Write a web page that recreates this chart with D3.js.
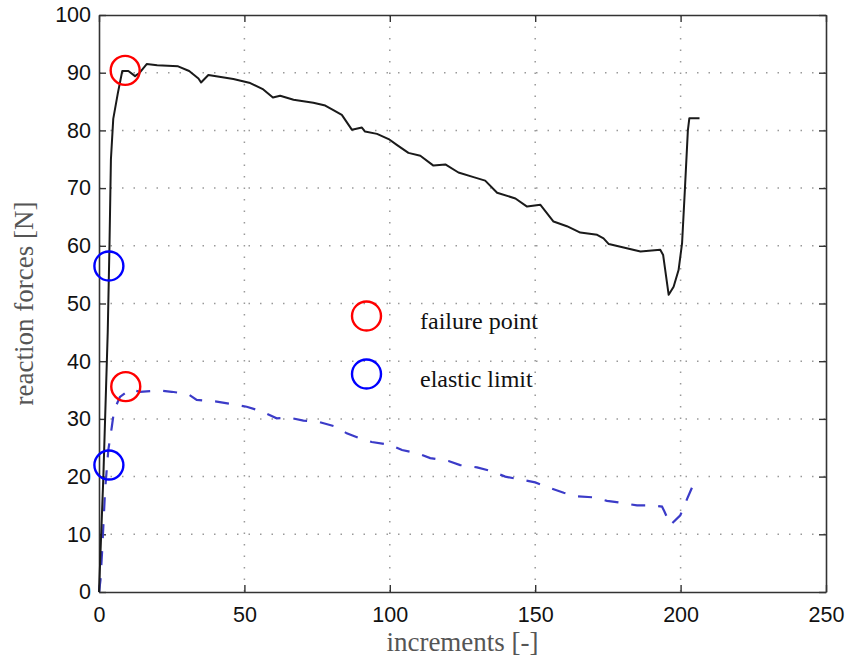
<!DOCTYPE html>
<html>
<head>
<meta charset="utf-8">
<script src="https://cdn.jsdelivr.net/npm/d3@7"></script>
<style>
  body { margin: 0; background: #fff; }
  svg { display: block; }
</style>
</head>
<body>
<div id="chart"></div>
<script>
// solid curve (outer reaction force)
const solidX = [0, 1.5, 3.0, 3.6, 4.1, 4.9, 6.5, 8.0, 10.1, 12.4, 14, 16.4, 20, 27.2, 31, 34.2, 35.1, 37.6, 46.2, 52, 56.5, 59.8, 62.3, 66.9,
  73.7, 77.8, 80.6, 83.5, 87.0, 90.4, 91.5, 95.6, 99.6, 102.4, 106.4, 110.5, 115.0, 119.1, 123.6, 128.8, 132.8, 136.9,
  143.2, 147.2, 151.8, 156.3, 160.9, 165.5, 171.3, 173.5, 175.3, 180.4, 186.2, 193, 194, 195.9, 197.6, 199.3, 200.5,
  201.5, 202.5, 203, 206.5];
const solidY = [0, 20, 45, 60, 75, 82, 86.5, 90.3, 90.3, 89.4, 90, 91.5, 91.3, 91.1, 90.3, 89.0, 88.3, 89.6, 88.9, 88.2, 87.1, 85.7, 86.0, 85.3,
  84.8, 84.3, 83.5, 82.7, 80.1, 80.5, 79.8, 79.4, 78.5, 77.5, 76.1, 75.6, 73.9, 74.1, 72.7, 71.9, 71.3, 69.2,
  68.2, 66.8, 67.1, 64.2, 63.4, 62.3, 61.9, 61.3, 60.3, 59.7, 59.0, 59.3, 58.4, 51.5, 52.9, 55.8, 60.4,
  70, 80, 82.1, 82.1];

// dashed curve (inner reaction force)
const dashX = [0, 0.5, 1.1, 2.1, 3.2, 4.4, 5.2, 7.2, 10.7, 14.1, 21, 25, 30.7, 33.6, 40.5, 47.4, 50.8, 55.4, 61.1, 65.7,
  70.3, 75.5, 81.8, 85.2, 89.8, 93.8, 100.1, 104.2, 109.9, 113.9, 120.2, 124.2, 130, 134.6, 139.7, 144.9, 150,
  154.1, 159.8, 164.4, 170.1, 174.7, 180.4, 185, 190.7, 193.6, 194.4, 196.5, 199.9, 202.2, 204];
const dashY = [0, 2, 7.3, 17.7, 24.6, 28.6, 31.5, 33.8, 35.1, 34.7, 34.9, 34.7, 34.3, 33.3, 33.0, 32.4, 32.1, 31.4, 30.1, 30.2,
  29.7, 29.5, 28.6, 27.5, 26.6, 26.0, 25.5, 24.6, 24.0, 23.2, 22.7, 22.0, 21.6, 21.0, 20.0, 19.5, 19.0,
  18.2, 17.2, 16.6, 16.4, 15.8, 15.4, 15.0, 15.0, 14.8, 14.0, 11.6, 13.3, 16.1, 18.2];

// marked points
const failureX = [9.0, 9.2];
const failureY = [90.4, 35.6];
const elasticX = [3.4, 3.4];
const elasticY = [56.5, 22.0];

const xTicks = [0, 50, 100, 150, 200, 250];
const yTicks = [0, 10, 20, 30, 40, 50, 60, 70, 80, 90, 100];

const W = 850, H = 666;
const margin = { top: 15, right: 24, bottom: 74, left: 99 };
const width = W - margin.left - margin.right,
      height = H - margin.top - margin.bottom;

const svg = d3.select("#chart").append("svg")
    .attr("width", W)
    .attr("height", H);

const g = svg.append("g")
    .attr("transform", `translate(${margin.left},${margin.top})`);

const x = d3.scaleLinear().domain([0, 250]).range([0, width]);
const y = d3.scaleLinear().domain([0, 100]).range([height, 0]);

// grid
g.append("g").selectAll("line")
    .data(xTicks.slice(1, -1))
    .enter().append("line")
    .attr("x1", d => x(d)).attr("x2", d => x(d))
    .attr("y1", 0).attr("y2", height)
    .attr("stroke", "#999").attr("stroke-width", 1.5)
    .attr("stroke-dasharray", "1.5,10");
g.append("g").selectAll("line")
    .data(yTicks.slice(1, -1))
    .enter().append("line")
    .attr("y1", d => y(d)).attr("y2", d => y(d))
    .attr("x1", 0).attr("x2", width)
    .attr("stroke", "#999").attr("stroke-width", 1.5)
    .attr("stroke-dasharray", "1.5,10");

// axes with inner ticks
const fontTicks = "'Liberation Sans', Arial, sans-serif";
const ax = g.append("g").attr("transform", `translate(0,${height})`)
    .call(d3.axisBottom(x).tickValues(xTicks).tickSizeInner(-7).tickSizeOuter(0).tickPadding(15));
const ay = g.append("g")
    .call(d3.axisLeft(y).tickValues(yTicks).tickSizeInner(-7).tickSizeOuter(0).tickPadding(8));
const axTop = g.append("g")
    .call(d3.axisTop(x).tickValues(xTicks).tickSizeInner(-7).tickSizeOuter(0).tickFormat(""));
const ayRight = g.append("g").attr("transform", `translate(${width},0)`)
    .call(d3.axisRight(y).tickValues(yTicks).tickSizeInner(-7).tickSizeOuter(0).tickFormat(""));

[ax, ay, axTop, ayRight].forEach(a => {
  a.select(".domain").attr("stroke", "#333").attr("stroke-width", 1.6);
  a.selectAll(".tick line").attr("stroke", "#333").attr("stroke-width", 1.4);
  a.selectAll("text").attr("font-family", fontTicks).attr("font-size", "21.5px").attr("fill", "#111");
});
ax.selectAll("text").attr("dy", "0.71em");

// data lines
const line = d3.line().x(d => x(d[0])).y(d => y(d[1]));

g.append("path")
    .datum(dashX.map((v, i) => [v, dashY[i]]))
    .attr("d", line)
    .attr("fill", "none")
    .attr("stroke", "#3b3bc8")
    .attr("stroke-width", 2.2)
    .attr("stroke-dasharray", "14,13");

g.append("path")
    .datum(solidX.map((v, i) => [v, solidY[i]]))
    .attr("d", line)
    .attr("fill", "none")
    .attr("stroke", "#1a1a1a")
    .attr("stroke-width", 2)
    .attr("stroke-linejoin", "round");

// markers
const R = 14.5;
g.selectAll("circle.failure")
    .data(failureX.map((v, i) => [v, failureY[i]]))
    .enter().append("circle")
    .attr("class", "failure")
    .attr("cx", d => x(d[0])).attr("cy", d => y(d[1])).attr("r", R)
    .attr("fill", "none").attr("stroke", "#ff0000").attr("stroke-width", 2.4);
g.selectAll("circle.elastic")
    .data(elasticX.map((v, i) => [v, elasticY[i]]))
    .enter().append("circle")
    .attr("class", "elastic")
    .attr("cx", d => x(d[0])).attr("cy", d => y(d[1])).attr("r", R)
    .attr("fill", "none").attr("stroke", "#0000ff").attr("stroke-width", 2.4);

// legend
const fontSerif = "'Liberation Serif', 'Times New Roman', serif";
const legend = [
  { label: "failure point", color: "#ff0000", cy: 316 },
  { label: "elastic limit", color: "#0000ff", cy: 374 }
];
legend.forEach(l => {
  svg.append("circle")
      .attr("cx", 366.5).attr("cy", l.cy).attr("r", R)
      .attr("fill", "none").attr("stroke", l.color).attr("stroke-width", 2.4);
  svg.append("text")
      .attr("x", 420).attr("y", l.cy + 13)
      .attr("font-family", fontSerif).attr("font-size", "24px")
      .attr("fill", "#111")
      .text(l.label);
});

// axis labels
svg.append("text")
    .attr("x", margin.left + width / 2)
    .attr("y", 651)
    .attr("text-anchor", "middle")
    .attr("font-family", fontSerif).attr("font-size", "27px")
    .attr("fill", "#555")
    .text("increments [-]");

svg.append("text")
    .attr("transform", `translate(33,${margin.top + height / 2}) rotate(-90)`)
    .attr("text-anchor", "middle")
    .attr("font-family", fontSerif).attr("font-size", "27px")
    .attr("fill", "#555")
    .text("reaction forces [N]");
</script>
</body>
</html>
